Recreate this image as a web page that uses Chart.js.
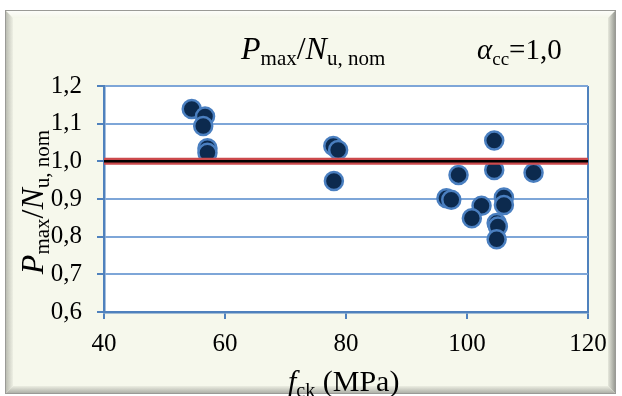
<!DOCTYPE html>
<html>
<head>
<meta charset="utf-8">
<script src="https://cdn.jsdelivr.net/npm/chart.js@4"></script>
<style>
  html, body { margin: 0; padding: 0; background: #fff; }
  canvas { display: block; }
</style>
</head>
<body>
<canvas id="chart" width="622" height="396"></canvas>
<script>
// test data
const fck = [54.5, 56.7, 56.4, 57.1, 57.1, 77.9, 78.7, 78.0,
  104.5, 104.5, 98.6, 96.6, 97.4, 102.4, 100.8, 106.1, 106.1, 104.9, 105.1, 104.9, 111.0];
const ratio = [1.139, 1.119, 1.094, 1.035, 1.023, 1.041, 1.030, 0.948,
  1.055, 0.977, 0.964, 0.902, 0.898, 0.882, 0.849, 0.904, 0.884, 0.836, 0.827, 0.793, 0.970];
const refX = [40, 120];
const refY = [1.0, 1.0];

const xTicks = [40, 60, 80, 100, 120];
const yTicks = [0.6, 0.7, 0.8, 0.9, 1.0, 1.1, 1.2];

const SERIF = '"Liberation Serif", "DejaVu Serif", serif';
const AXIS_BLUE = "#4f81bd";
const GRID_BLUE = "#7ea6d8";

// draws a run of text pieces (main / subscript) starting at x, returns end x
function drawRun(ctx, parts, x, y) {
  parts.forEach(p => {
    ctx.font = p.font;
    ctx.fillText(p.t, x, y + (p.dy || 0));
    x += ctx.measureText(p.t).width;
  });
  return x;
}

function runWidth(ctx, parts) {
  let w = 0;
  parts.forEach(p => { ctx.font = p.font; w += ctx.measureText(p.t).width; });
  return w;
}

const big = `italic 32px ${SERIF}`;
const bigUp = `32px ${SERIF}`;
const sub = `21px ${SERIF}`;

const ratioLabel = [
  { t: "P", font: big },
  { t: "max", font: sub, dy: 6 },
  { t: "/", font: bigUp },
  { t: "N", font: big },
  { t: "u, nom", font: sub, dy: 6 }
];

const framePlugin = {
  id: "frame",
  beforeDraw(chart) {
    const ctx = chart.ctx;
    const a = chart.chartArea;
    ctx.save();
    ctx.fillStyle = "#ffffff";
    ctx.fillRect(0, 0, chart.width, chart.height);
    ctx.fillStyle = "#f6f8ec";
    ctx.fillRect(5, 10, 611, 384);
    ctx.fillStyle = "#ffffff";
    ctx.fillRect(a.left, a.top, a.right - a.left, a.bottom - a.top);
    ctx.restore();
  },
  afterDraw(chart) {
    const ctx = chart.ctx;
    ctx.save();

    // bevelled border
    const L = 5, T = 10, R = 616, B = 394, w = 8;
    let g = ctx.createLinearGradient(0, T, 0, T + w);
    g.addColorStop(0, "#fdfdfb"); g.addColorStop(1, "#f4f6ea");
    ctx.fillStyle = g;
    ctx.beginPath();
    ctx.moveTo(L, T); ctx.lineTo(R, T); ctx.lineTo(R - w, T + w); ctx.lineTo(L + w, T + w);
    ctx.fill();

    g = ctx.createLinearGradient(L, 0, L + w, 0);
    g.addColorStop(0, "#b4b6ac"); g.addColorStop(1, "#eef0e4");
    ctx.fillStyle = g;
    ctx.beginPath();
    ctx.moveTo(L, T); ctx.lineTo(L + w, T + w); ctx.lineTo(L + w, B - w); ctx.lineTo(L, B);
    ctx.fill();

    g = ctx.createLinearGradient(R - w, 0, R, 0);
    g.addColorStop(0, "#e6e8dc"); g.addColorStop(1, "#8e908a");
    ctx.fillStyle = g;
    ctx.beginPath();
    ctx.moveTo(R, T); ctx.lineTo(R, B); ctx.lineTo(R - w, B - w); ctx.lineTo(R - w, T + w);
    ctx.fill();

    g = ctx.createLinearGradient(0, B - w, 0, B);
    g.addColorStop(0, "#eceee2"); g.addColorStop(1, "#a6a8a0");
    ctx.fillStyle = g;
    ctx.beginPath();
    ctx.moveTo(L, B); ctx.lineTo(L + w, B - w); ctx.lineTo(R - w, B - w); ctx.lineTo(R, B);
    ctx.fill();

    ctx.strokeStyle = "#9a9a96";
    ctx.lineWidth = 1;
    ctx.strokeRect(L + 0.5, T + 0.5, R - L - 1, B - T - 1);

    ctx.fillStyle = "#000";
    ctx.textBaseline = "alphabetic";

    // chart title
    drawRun(ctx, ratioLabel, 241, 59);
    drawRun(ctx, [
      { t: "α", font: `italic 29px ${SERIF}` },
      { t: "cc", font: `19px ${SERIF}`, dy: 6 },
      { t: "=1,0", font: `29px ${SERIF}` }
    ], 477, 59);

    // y axis title
    ctx.save();
    ctx.translate(43, 202);
    ctx.rotate(-Math.PI / 2);
    drawRun(ctx, ratioLabel, -runWidth(ctx, ratioLabel) / 2, 0);
    ctx.restore();

    // x axis title
    drawRun(ctx, [
      { t: "f", font: `italic 30px ${SERIF}` },
      { t: "ck", font: `20px ${SERIF}`, dy: 6 },
      { t: " (MPa)", font: `30px ${SERIF}` }
    ], 288, 391);

    ctx.restore();
  }
};

const fmt = v => v.toFixed(1).replace(".", ",");

new Chart(document.getElementById("chart"), {
  type: "scatter",
  data: {
    datasets: [
      {
        data: refX.map((x, i) => ({ x, y: refY[i] })),
        showLine: true, borderColor: "#000000", borderWidth: 2.5,
        pointRadius: 0, order: 0
      },
      {
        data: refX.map((x, i) => ({ x, y: refY[i] })),
        showLine: true, borderColor: "#cc4a4c", borderWidth: 7,
        pointRadius: 0, order: 1
      },
      {
        data: fck.map((x, i) => ({ x, y: ratio[i] })),
        backgroundColor: "#0c2a4e", borderColor: "#4a7fc0",
        borderWidth: 2.5, pointRadius: 9, order: 2
      }
    ]
  },
  options: {
    responsive: false,
    animation: false,
    layout: { padding: { left: 0, top: 86, right: 34, bottom: 0 } },
    plugins: { legend: { display: false }, tooltip: { enabled: false } },
    scales: {
      x: {
        type: "linear", min: 40, max: 120,
        afterBuildTicks: s => { s.ticks = xTicks.map(v => ({ value: v })); },
        afterFit: s => { s.height = 84; },
        grid: {
          color: c => (c.tick && c.tick.value === 120 ? AXIS_BLUE : "rgba(0,0,0,0)"),
          tickColor: AXIS_BLUE, lineWidth: 2, tickLength: 7
        },
        border: { color: AXIS_BLUE, width: 2.5 },
        ticks: { color: "#000", font: { family: SERIF, size: 25 }, padding: 10, maxRotation: 0 }
      },
      y: {
        type: "linear", min: 0.6, max: 1.2,
        afterBuildTicks: s => { s.ticks = yTicks.map(v => ({ value: v })); },
        afterFit: s => { s.width = 104; },
        grid: { color: GRID_BLUE, tickColor: AXIS_BLUE, lineWidth: 2, tickLength: 7 },
        border: { color: AXIS_BLUE, width: 2.5 },
        ticks: { color: "#000", font: { family: SERIF, size: 25 }, padding: 15, callback: v => fmt(v) }
      }
    }
  },
  plugins: [framePlugin]
});
</script>
</body>
</html>
